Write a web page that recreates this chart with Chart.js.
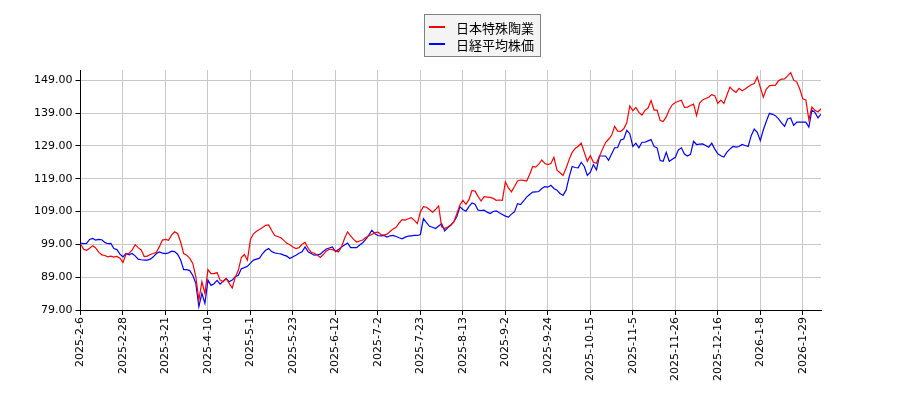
<!DOCTYPE html>
<html>
<head>
<meta charset="utf-8">
<title>日本特殊陶業 vs 日経平均株価</title>
<script src="https://cdn.jsdelivr.net/npm/chart.js@4.4.1/dist/chart.umd.min.js"></script>
<style>
    body { margin: 0; background: #ffffff; }
    canvas { display: block; }
</style>
</head>
<body>
<canvas id="compareCanvas" width="900" height="400"></canvas>
<script>

    /************** data ********************************/

    var seriesNames = ['日本特殊陶業', '日経平均株価'];

    // x tick labels, one every 14 trading days
    var dateTicks = ['2025-2-6', '2025-2-28', '2025-3-21', '2025-4-10', '2025-5-1', '2025-5-23',
        '2025-6-12', '2025-7-2', '2025-7-23', '2025-8-13', '2025-9-2', '2025-9-24',
        '2025-10-15', '2025-11-5', '2025-11-26', '2025-12-16', '2026-1-8', '2026-1-29'];

    var yTicks = [79, 89, 99, 109, 119, 129, 139, 149];

    // indexed prices (red)
    var ngkValues = [
        99.2, 97.5, 97.2, 97.8, 98.6, 97.9, 96.6, 95.8, 95.6, 95.2,
        95.4, 95.1, 95.3, 94.8, 93.5, 96.0, 96.3, 97.2, 98.9, 98.0,
        97.3, 95.3, 95.4, 95.9, 96.2, 96.6, 98.3, 100.3, 100.5, 100.2,
        101.8, 102.8, 102.3, 99.7, 96.2, 95.7, 94.7, 93.2, 89.1, 82.0,
        87.6, 84.0, 91.3, 90.1, 90.1, 90.4, 88.1, 87.6, 88.6, 87.1,
        85.7, 89.0, 91.1, 95.0, 95.9, 94.2, 100.5, 102.2, 103.0, 103.5,
        104.1, 104.8, 104.9, 103.2, 101.7, 101.4, 101.0, 100.2, 99.3, 98.9,
        98.2, 97.7, 98.0, 99.0, 99.6, 97.8, 96.6, 96.3, 95.8, 95.0,
        95.9, 97.0, 97.5, 97.4, 97.1, 96.7, 98.2, 100.8, 102.8, 101.6,
        100.5, 99.7, 100.0, 100.3, 101.1, 101.6, 102.0, 102.6, 102.7, 102.0,
        101.8, 102.1, 102.9, 103.7, 104.2, 105.5, 106.5, 106.4, 106.8, 107.1,
        106.3, 105.3, 108.9, 110.5, 110.3, 109.6, 108.8, 109.6, 110.7, 104.3,
        103.8, 104.3, 104.9, 105.8, 108.3, 111.0, 112.4, 111.2, 112.6, 115.4,
        115.2, 113.6, 112.2, 113.5, 113.4, 113.3, 113.0, 112.4, 112.5, 112.4,
        118.0, 116.2, 115.0, 116.6, 118.3, 118.6, 118.5, 118.3, 120.3, 122.7,
        122.5, 123.4, 124.7, 123.6, 123.3, 123.6, 125.5, 121.6, 120.8, 120.0,
        122.2, 124.8, 127.0, 128.2, 128.9, 129.8, 127.0, 124.3, 126.0, 124.0,
        123.7, 125.8, 128.0, 130.0, 131.0, 132.2, 134.9, 133.5, 133.4, 134.2,
        136.0, 141.2, 139.7, 140.7, 139.2, 138.4, 139.8, 140.5, 142.8, 139.9,
        139.9, 136.7, 136.4, 137.8, 140.0, 141.5, 142.2, 142.6, 142.9, 140.7,
        140.8, 141.3, 141.7, 138.2, 142.0, 143.0, 143.4, 143.8, 144.6, 144.3,
        141.9, 142.9, 141.9, 144.5, 146.9, 145.9, 145.3, 146.5, 145.8, 146.3,
        147.0, 147.6, 148.0, 150.0, 146.8, 143.8, 146.3, 147.3, 147.4, 147.5,
        148.8, 149.3, 149.4, 150.3, 151.3, 149.0, 148.5, 146.3, 143.3, 143.0,
        137.0, 140.8, 139.8, 139.3, 140.3
    ];

    // indexed prices (blue)
    var nikkeiValues = [
        99.4, 99.2, 99.3, 100.5, 100.8, 100.3, 100.5, 100.4, 99.6, 99.2,
        99.3, 97.7, 97.4, 96.0, 95.2, 96.2, 95.8, 96.2, 95.5, 94.5,
        94.3, 94.2, 94.2, 94.5, 95.2, 96.2, 96.7, 96.3, 96.2, 96.4,
        96.9, 96.8, 96.0, 94.2, 91.3, 91.3, 91.0, 89.5, 87.1, 80.0,
        84.1, 81.0, 88.1, 86.5, 87.0, 88.0, 86.9, 87.8, 88.6, 87.6,
        88.1, 89.1, 89.6, 91.6, 91.9, 92.3, 93.3, 94.2, 94.5, 94.8,
        96.2, 97.2, 97.7, 96.8, 96.4, 96.2, 96.1, 95.7, 95.4, 94.7,
        95.2, 95.7, 96.3, 96.7, 98.2, 96.7, 96.2, 95.7, 95.8, 96.0,
        96.8, 97.6, 97.9, 98.2, 96.8, 97.4, 98.2, 98.8, 99.4, 98.0,
        98.0, 98.0, 98.8, 99.5, 100.5, 101.8, 103.3, 102.2, 101.7, 101.6,
        101.7, 101.2, 101.6, 101.7, 101.4, 101.0, 100.7, 101.2, 101.5, 101.6,
        101.7, 101.7, 102.0, 106.8, 105.6, 104.5, 104.2, 103.8, 104.6, 105.3,
        103.1, 104.0, 104.8, 105.8, 107.5, 110.4, 109.6, 109.1, 110.5, 111.6,
        111.2, 109.4, 109.3, 109.4, 108.8, 108.4, 109.0, 109.2, 108.6, 108.1,
        107.6, 107.3, 108.2, 108.9, 111.4, 111.1, 112.2, 113.4, 114.2, 114.9,
        115.0, 115.1, 116.0, 116.6, 116.4, 117.0, 116.0, 115.5, 114.5, 113.9,
        115.5, 119.5, 122.7, 122.4, 122.3, 124.0, 122.7, 120.0, 121.0, 123.3,
        121.7, 125.9, 125.9, 125.9, 124.6, 126.5, 128.4, 128.5, 130.8, 131.1,
        133.7, 132.7, 128.8, 129.8, 128.4, 130.1, 130.1, 130.5, 130.9, 128.8,
        128.4, 124.5, 124.3, 127.0, 124.3, 124.9, 125.5, 127.8, 128.4, 126.5,
        125.9, 126.4, 130.4, 129.4, 129.5, 129.6, 129.1, 128.6, 129.8, 128.0,
        126.6, 126.0, 125.6, 127.1, 128.0, 128.8, 128.6, 128.8, 129.4, 129.1,
        128.8, 132.1, 134.1, 133.1, 130.6, 133.9, 136.5, 138.9, 138.6, 138.2,
        137.2, 136.0, 134.9, 137.2, 137.5, 135.2, 136.2, 136.2, 136.2, 136.2,
        134.7, 139.9, 139.2, 137.5, 138.7
    ];

    var tickEvery = 14;

    /************** helpers ********************************/

    var toPoints = function (values) {
        var pts = [];
        for (var i = 0; i < values.length; i++) {
            pts.push({x: i, y: values[i]});
        }
        return pts;
    };

    // boxed legend top centre, two rows
    var boxLegend = {
        id: 'boxLegend',
        afterDraw: function (chart) {
            var ctx = chart.ctx;
            var sets = chart.data.datasets;
            ctx.save();
            ctx.fillStyle = '#f4f4f4';
            ctx.fillRect(424.5, 14.5, 116, 42);
            ctx.strokeStyle = '#808080';
            ctx.lineWidth = 1;
            ctx.strokeRect(424.5, 14.5, 116, 42);
            ctx.font = '13px "Noto Sans CJK JP", sans-serif';
            ctx.textBaseline = 'middle';
            for (var i = 0; i < sets.length; i++) {
                var yy = 27 + i * 17;
                ctx.strokeStyle = sets[i].borderColor;
                ctx.lineWidth = 2;
                ctx.beginPath();
                ctx.moveTo(429, yy);
                ctx.lineTo(445, yy);
                ctx.stroke();
                ctx.fillStyle = '#000000';
                ctx.fillText(sets[i].label, 456, yy + 1);
            }
            ctx.restore();
        }
    };

    /************** chart ********************************/

    var drawChart = function () {
        var ctx = document.getElementById('compareCanvas');

        var dataMap = {
            datasets: [
                {
                    label: seriesNames[0],
                    data: toPoints(ngkValues),
                    borderColor: '#ff0000' // red
                },
                {
                    label: seriesNames[1],
                    data: toPoints(nikkeiValues),
                    borderColor: '#0000ff' // blue
                }
            ]
        };

        new Chart(ctx, {
            type: 'line',
            data: dataMap,
            plugins: [boxLegend],
            options: {
                responsive: false,
                animation: false,
                devicePixelRatio: 1,
                layout: {padding: {left: 0, right: 79, top: 70, bottom: 0}},
                elements: {
                    point: {radius: 0},
                    line: {borderWidth: 1.2, tension: 0}
                },
                plugins: {
                    legend: {display: false},
                    tooltip: {enabled: false}
                },
                scales: {
                    x: {
                        type: 'linear',
                        min: 0,
                        max: ngkValues.length - 1,
                        afterBuildTicks: function (scale) {
                            scale.ticks = dateTicks.map(function (t, i) {
                                return {value: i * tickEvery};
                            });
                        },
                        afterFit: function (scale) {
                            scale.height = 90;
                        },
                        grid: {color: '#c8c8c8', tickLength: 5, tickColor: '#000000'},
                        border: {color: '#000000', width: 1},
                        ticks: {
                            autoSkip: false,
                            minRotation: 90,
                            maxRotation: 90,
                            padding: 2,
                            color: '#000000',
                            font: {family: '"DejaVu Sans"', size: 11},
                            callback: function (v) {
                                return dateTicks[Math.round(v / tickEvery)];
                            }
                        }
                    },
                    y: {
                        min: 79,
                        max: 152.1,
                        afterBuildTicks: function (scale) {
                            scale.ticks = yTicks.map(function (v) {
                                return {value: v};
                            });
                        },
                        afterFit: function (scale) {
                            scale.width = 80.5;
                        },
                        grid: {color: '#c8c8c8', tickLength: 5, tickColor: '#000000'},
                        border: {color: '#000000', width: 1},
                        ticks: {
                            padding: 3,
                            color: '#000000',
                            font: {family: '"DejaVu Sans"', size: 11},
                            callback: function (v) {
                                return v.toFixed(2);
                            }
                        }
                    }
                }
            }
        });
    };

    drawChart();

</script>
</body>
</html>
